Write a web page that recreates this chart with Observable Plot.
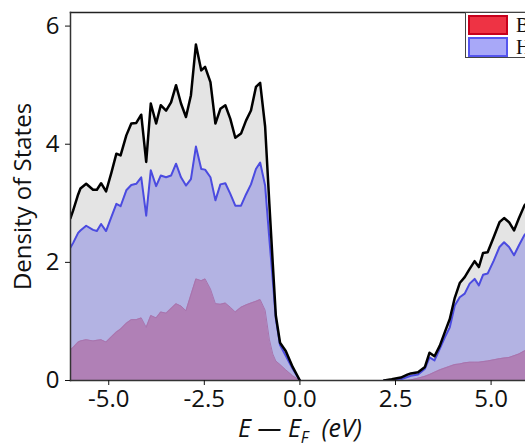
<!DOCTYPE html>
<html><head><meta charset="utf-8">
<script src="https://cdn.jsdelivr.net/npm/d3@7"></script>
<script src="https://cdn.jsdelivr.net/npm/@observablehq/plot@0.6"></script>
<style>
html,body{margin:0;padding:0;background:#fff;}
#wrap{position:relative;width:525px;height:443px;overflow:hidden;}
#legend{position:absolute;left:465px;top:12px;width:90px;height:44px;border:1px solid #444;background:#fff;font-family:"Liberation Serif",serif;font-size:20px;color:#111;}
.sw{position:absolute;left:2px;width:36px;height:16px;border:2px solid;}
.lt{position:absolute;left:50px;line-height:20px;}
#xlab{position:absolute;left:70px;width:460px;top:410px;text-align:center;font-family:"Open Sans",sans-serif;font-size:25px;font-style:italic;color:#111;}
#xlab sub{font-size:16px;}
</style>
</head><body>
<div id="wrap"></div>
<script>
// Valence band: energy (eV), total DOS, H DOS, B DOS
const vbEnergy = [-6.00,-5.93,-5.80,-5.74,-5.59,-5.41,-5.31,-5.20,-5.07,-4.93,-4.80,-4.69,-4.54,-4.41,-4.28,-4.15,-4.02,-3.90,-3.76,-3.64,-3.50,-3.37,-3.24,-3.11,-2.98,-2.85,-2.72,-2.58,-2.48,-2.34,-2.21,-2.08,-1.95,-1.82,-1.69,-1.54,-1.41,-1.28,-1.15,-1.04,-0.91,-0.80,-0.71,-0.63,-0.52,-0.37,-0.19,0.00];
const vbTotal  = [2.75,2.88,3.15,3.25,3.33,3.23,3.23,3.34,3.20,3.52,3.84,3.81,4.15,4.35,4.36,4.50,3.70,4.69,4.35,4.66,4.57,4.71,5.00,4.69,4.46,4.83,5.69,5.25,5.31,5.05,4.35,4.60,4.66,4.43,4.11,4.18,4.40,4.57,4.97,5.04,4.30,3.00,1.98,1.10,0.64,0.50,0.23,0.00];
const vbH      = [2.25,2.33,2.50,2.54,2.62,2.55,2.53,2.65,2.53,2.77,2.99,2.95,3.22,3.31,3.33,3.44,2.79,3.56,3.29,3.47,3.44,3.47,3.67,3.44,3.30,3.41,3.96,3.58,3.57,3.44,3.05,3.32,3.34,3.16,2.96,2.96,3.15,3.32,3.58,3.69,3.30,2.40,1.70,1.05,0.60,0.42,0.20,0.00];
const vbB      = [0.52,0.56,0.65,0.67,0.69,0.67,0.68,0.69,0.65,0.74,0.82,0.87,0.97,1.03,1.03,1.06,0.90,1.10,1.06,1.16,1.14,1.22,1.30,1.26,1.18,1.45,1.72,1.69,1.72,1.55,1.30,1.29,1.31,1.24,1.16,1.24,1.28,1.31,1.34,1.37,1.19,0.70,0.45,0.33,0.27,0.18,0.08,0.00];
// Conduction band
const cbEnergy = [2.20,2.40,2.64,2.81,2.90,3.09,3.27,3.39,3.52,3.66,3.79,3.92,4.05,4.18,4.31,4.44,4.57,4.68,4.79,4.91,5.07,5.22,5.34,5.47,5.60,5.73,5.87,5.95];
const cbTotal  = [0.00,0.02,0.05,0.10,0.12,0.14,0.23,0.47,0.41,0.59,0.82,1.04,1.40,1.65,1.75,1.89,2.02,1.92,2.16,2.17,2.43,2.68,2.75,2.68,2.54,2.75,2.96,3.02];
const cbH      = [0.00,0.01,0.02,0.06,0.08,0.10,0.20,0.39,0.34,0.54,0.73,0.90,1.27,1.41,1.47,1.64,1.72,1.61,1.79,1.81,2.03,2.26,2.34,2.26,2.12,2.29,2.46,2.52];
const cbB      = [0.00,0.00,0.00,0.00,0.01,0.04,0.07,0.10,0.14,0.18,0.21,0.24,0.27,0.28,0.30,0.31,0.31,0.31,0.32,0.33,0.35,0.37,0.38,0.39,0.42,0.45,0.50,0.52];

const xTicks = [-5, -2.5, 0, 2.5, 5];
const yTicks = [0, 2, 4, 6];
const yLabel = "Density of States";
const legendLabels = ["B", "H"];

const rows = [
  ...vbEnergy.map((e, i) => ({E: e, total: vbTotal[i], h: vbH[i], b: vbB[i], band: "vb"})),
  ...cbEnergy.map((e, i) => ({E: e, total: cbTotal[i], h: cbH[i], b: cbB[i], band: "cb"}))
];

const chart = Plot.plot({
  width: 525, height: 443,
  marginLeft: 70, marginRight: 0, marginTop: 12, marginBottom: 63,
  style: {fontFamily: "Open Sans", color: "#111", background: "transparent", overflow: "visible"},
  x: {domain: [-6, 5.9]},
  y: {domain: [0, 6.23]},
  marks: [
    Plot.areaY(rows, {x: "E", y: "total", z: "band", fill: "#e4e4e4", clip: true}),
    Plot.areaY(rows, {x: "E", y: "h", z: "band", fill: "#b3b3e3", clip: true}),
    Plot.areaY(rows, {x: "E", y: "b", z: "band", fill: "#b080b6", clip: true}),
    Plot.line(rows, {x: "E", y: "b", z: "band", stroke: "#a874ae", strokeWidth: 1, clip: true}),
    Plot.line(rows, {x: "E", y: "h", z: "band", stroke: "#4b4be0", strokeWidth: 2, clip: true}),
    Plot.line(rows, {x: "E", y: "total", z: "band", stroke: "#000", strokeWidth: 2.5, clip: true}),
    Plot.frame({anchor: "top", stroke: "#222", strokeWidth: 1.5}),
    Plot.frame({anchor: "left", stroke: "#333", strokeWidth: 1.5}),
    Plot.frame({anchor: "bottom", stroke: "#333", strokeWidth: 1.5}),
    Plot.axisX({ticks: xTicks, tickFormat: d => d.toFixed(1), tickSize: 5, tickPadding: 4, fontSize: 24, label: null}),
    Plot.axisY({ticks: yTicks, tickFormat: d => String(d), tickSize: 5, tickPadding: 6, fontSize: 24, label: yLabel, labelAnchor: "center", labelArrow: "none", labelOffset: 57})
  ]
});

const wrap = document.getElementById("wrap");
wrap.appendChild(chart);

const leg = document.createElement("div");
leg.id = "legend";
const swCols = [["#ee3344", "#c8001c"], ["#a8a8f8", "#5555ee"]];
legendLabels.forEach((lab, i) => {
  const sw = document.createElement("div");
  sw.className = "sw";
  sw.style.top = (2 + i * 22) + "px";
  sw.style.background = swCols[i][0];
  sw.style.borderColor = swCols[i][1];
  leg.appendChild(sw);
  const t = document.createElement("div");
  t.className = "lt";
  t.style.top = (2 + i * 22) + "px";
  t.textContent = lab;
  leg.appendChild(t);
});
wrap.appendChild(leg);

const xl = document.createElement("div");
xl.id = "xlab";
xl.innerHTML = "E — E<sub>F</sub>&nbsp;&nbsp;(eV)";
wrap.appendChild(xl);
</script>
</body></html>
